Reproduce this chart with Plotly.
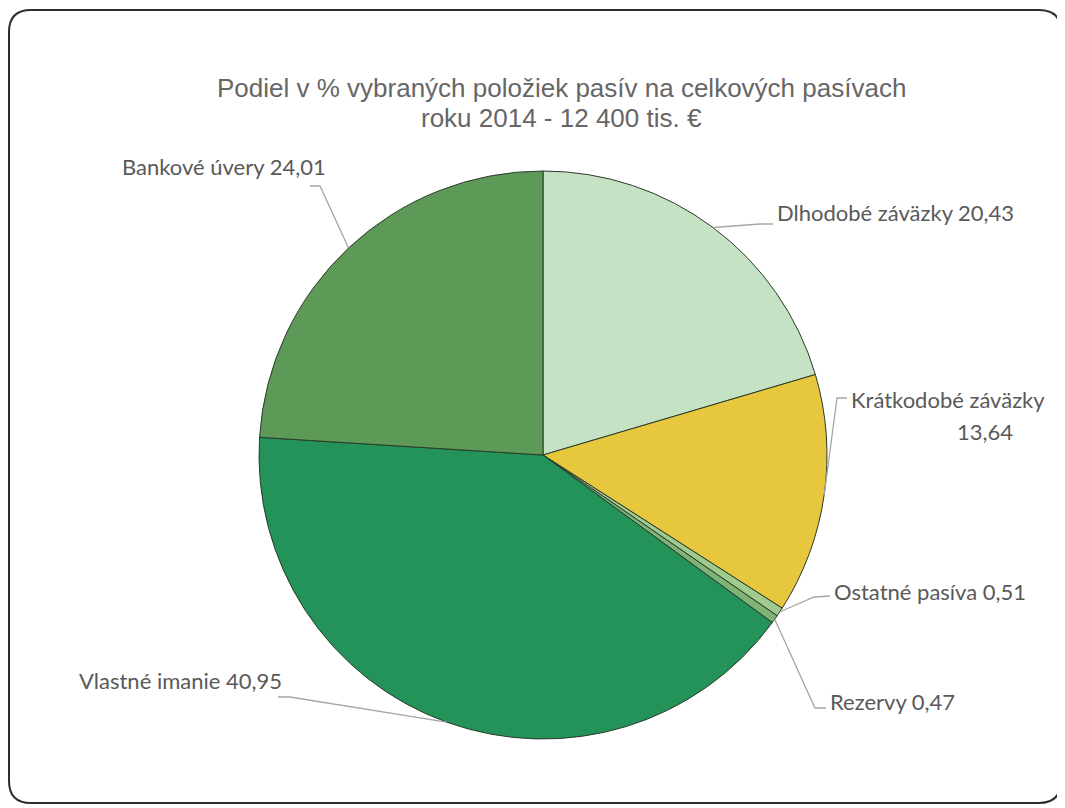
import math
import plotly.graph_objects as go

# the page body adds an 8px margin, so the figure is drawn 8px in
OFF = 8
W, H = 1065 - OFF, 808 - OFF

labels = ["Dlhodobé záväzky", "Krátkodobé záväzky", "Ostatné pasíva",
          "Rezervy", "Vlastné imanie", "Bankové úvery"]
values = [20.43, 13.64, 0.51, 0.47, 40.95, 24.01]
colors = ["#c6e2c4", "#e7c73e", "#9fcb8e", "#7fb476", "#23935a", "#5e9a57"]

# label text written as in the chart (decimal comma)
label_lines = [
    ["Dlhodobé záväzky 20,43"],
    ["Krátkodobé záväzky", "13,64"],
    ["Ostatné pasíva 0,51"],
    ["Rezervy 0,47"],
    ["Vlastné imanie 40,95"],
    ["Bankové úvery 24,01"],
]

# pie geometry in screen pixels
cx, cy, r = 543, 455, 284

# label placement (screen pixels): text lines, elbow start, elbow end
label_pos = [
    dict(lines=[(775, 212, "left")], p0=(773, 224), p1=(760, 224)),
    dict(lines=[(948, 399, "center"), (985, 431, "center")], p0=(847, 398), p1=(837, 398)),
    dict(lines=[(832, 591, "left")], p0=(830, 596), p1=(814, 597)),
    dict(lines=[(828, 701, "left")], p0=(826, 708), p1=(815, 708)),
    dict(lines=[(77, 680, "left")], p0=(278, 697), p1=(290, 697)),
    dict(lines=[(120, 166, "left")], p0=(310, 186), p1=(320, 186)),
]


def px(x):
    return (x - OFF) / W


def py(y):
    return 1 - (y - OFF) / H


label_font = dict(family="Lato, Carlito, sans-serif", size=22, color="#595959")

fig = go.Figure()
fig.add_trace(go.Pie(
    labels=labels,
    values=values,
    sort=False,
    direction="clockwise",
    rotation=0,
    textinfo="none",
    hoverinfo="label+value",
    marker=dict(colors=colors, line=dict(color="#2b3a2b", width=1)),
    domain=dict(x=[px(cx - r), px(cx + r)], y=[py(cy + r), py(cy - r)]),
    showlegend=False,
))

total = sum(values)
shapes = []
annotations = []
cum = 0
for i, v in enumerate(values):
    mid = 2 * math.pi * (cum + v / 2) / total
    cum += v
    tx = cx + r * math.sin(mid)
    ty = cy - r * math.cos(mid)
    lp = label_pos[i]
    (x0, y0), (x1, y1) = lp["p0"], lp["p1"]
    path = f"M {px(x0)} {py(y0)} L {px(x1)} {py(y1)} L {px(tx)} {py(ty)}"
    shapes.append(dict(type="path", xref="paper", yref="paper", path=path,
                       line=dict(color="#a6a6a6", width=1.3)))
    for text, (lx, ly, anchor) in zip(label_lines[i], lp["lines"]):
        annotations.append(dict(
            x=px(lx), y=py(ly), xref="paper", yref="paper",
            xanchor=anchor, yanchor="middle", showarrow=False,
            text=text, font=label_font,
        ))

# title, two lines
title_lines = ["Podiel v % vybraných položiek pasív na celkových pasívach",
               "roku 2014 - 12 400 tis. €"]
for text, ty in zip(title_lines, [88, 118]):
    annotations.append(dict(
        x=px(561), y=py(ty), xref="paper", yref="paper",
        xanchor="center", yanchor="middle", showarrow=False, text=text,
        font=dict(family="Liberation Sans, Arial, sans-serif", size=26, color="#666666"),
    ))

# rounded chart frame
x0f, y0f, x1f, y1f, rc = 9, 10, 1061, 803, 22
frame = (f"M {px(x0f + rc)} {py(y0f)} L {px(x1f - rc)} {py(y0f)} "
         f"Q {px(x1f)} {py(y0f)} {px(x1f)} {py(y0f + rc)} "
         f"L {px(x1f)} {py(y1f - rc)} Q {px(x1f)} {py(y1f)} {px(x1f - rc)} {py(y1f)} "
         f"L {px(x0f + rc)} {py(y1f)} Q {px(x0f)} {py(y1f)} {px(x0f)} {py(y1f - rc)} "
         f"L {px(x0f)} {py(y0f + rc)} Q {px(x0f)} {py(y0f)} {px(x0f + rc)} {py(y0f)} Z")
shapes.append(dict(type="path", xref="paper", yref="paper", path=frame,
                   line=dict(color="#2a2f2a", width=2), layer="below"))

fig.update_layout(
    width=W, height=H,
    margin=dict(l=0, r=0, t=0, b=0),
    paper_bgcolor="white",
    plot_bgcolor="white",
    shapes=shapes,
    annotations=annotations,
)

fig.write_html("out.html")
